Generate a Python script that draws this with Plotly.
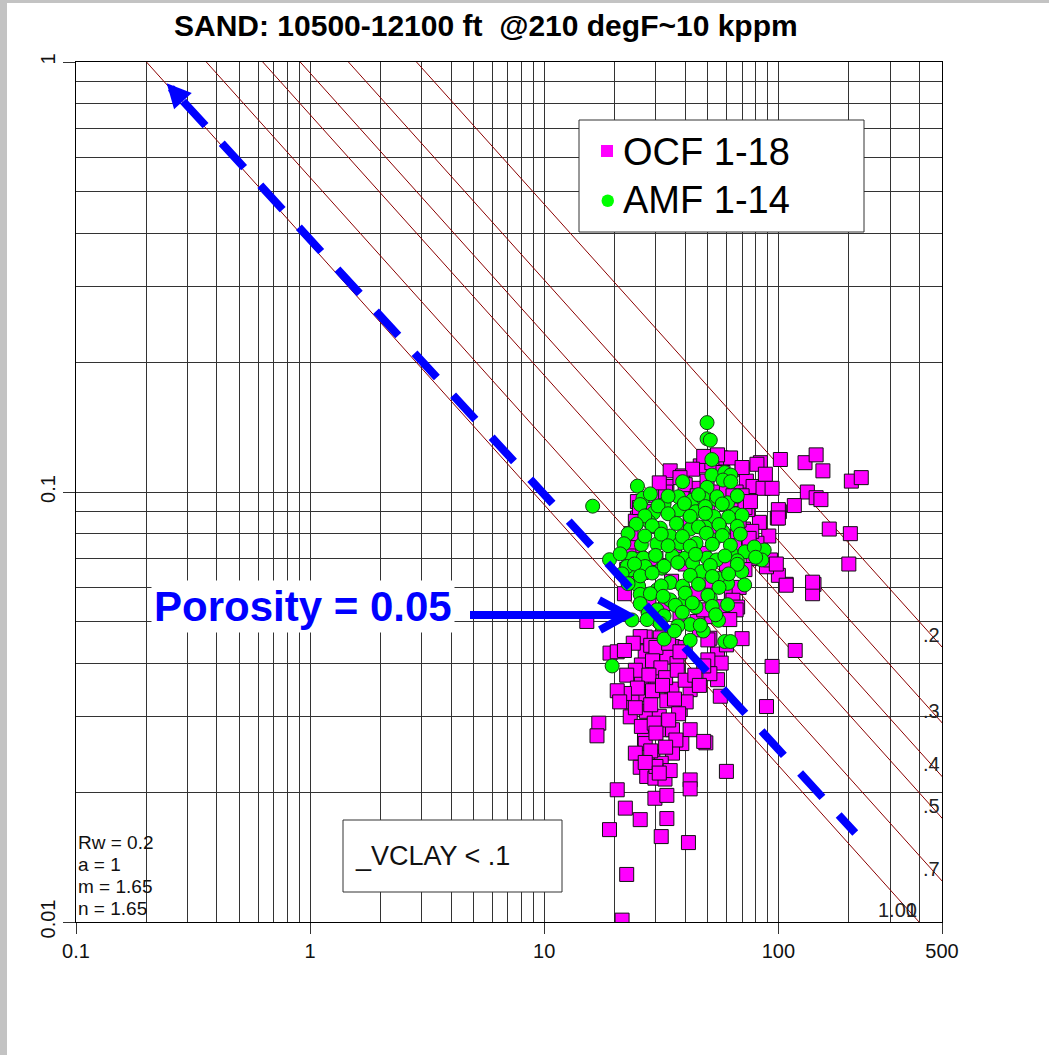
import math
import plotly.graph_objects as go

# ---------------- data ----------------
title_text = "SAND: 10500-12100 ft  @210 degF~10 kppm"
rw_value, a_value, m_value, n_value = 0.2, 1.0, 1.65, 1.65
param_lines = ["Rw = 0.2", "a = 1", "m = 1.65", "n = 1.65"]
sw_values = [1.0, 0.7, 0.5, 0.4, 0.3, 0.2]
sw_labels = ["1.00", ".7", ".5", ".4", ".3", ".2"]

x_major = [0.1, 1, 10, 100, 500]
x_major_text = ["0.1", "1", "10", "100", "500"]
x_minor = [0.2, 0.3, 0.4, 0.5, 0.6, 0.7, 0.8, 0.9,
           2, 3, 4, 5, 6, 7, 8, 9,
           20, 30, 40, 50, 60, 70, 80, 90,
           200, 300, 400]
y_major = [0.01, 0.1, 1]
y_major_text = ["0.01", "0.1", "1"]
y_minor = [0.02, 0.03, 0.04, 0.05, 0.06, 0.07, 0.08, 0.09,
           0.2, 0.3, 0.4, 0.5, 0.6, 0.7, 0.8, 0.9]

series_names = ["OCF 1-18", "AMF 1-14"]
filter_text = "_VCLAY < .1"
porosity_text = "Porosity = 0.05"
pointer_rt = [0.244, 213]
pointer_phi = [0.892, 0.0161]

ocf_rt = [83.8, 102, 130, 145, 155, 205, 226, 133, 145, 152,
          117, 101, 99, 165, 203, 200, 142, 140, 108, 100,
          89, 92.5, 91, 81, 83, 71, 63, 81, 70, 57,
          62.5, 73, 78, 86, 94, 74, 67, 77, 67, 100,
          100, 98, 108, 140, 70, 46.4, 52, 48, 55, 34.5,
          39, 25, 25, 29.7, 33.4, 41.3, 44.5, 49.6, 24, 23,
          22, 28, 33, 40, 45, 55, 60, 66, 70, 72,
          68, 75, 78, 72, 68, 64, 58, 45, 38, 33,
          28, 26, 30, 36, 42, 50, 55, 48, 40, 35,
          45, 52, 60, 65, 22.5, 23, 67, 70, 118, 94,
          89, 60, 49, 51, 55, 57, 55, 56.5, 50, 51,
          48, 66, 27, 35.3, 40, 50, 60, 46, 52, 56.5,
          48, 15.2, 19.1, 20.5, 25.7, 27, 31.3, 33.4, 36.9, 26,
          26, 30.3, 35.1, 42, 27, 23.7, 23.3, 27.3, 31, 33.4,
          38.1, 40.4, 17.1, 16.8, 32, 35.3, 42, 26.8, 27, 38.7,
          48, 24.5, 29.1, 35.3, 31.6, 25.7, 27.4, 29.7, 32.8, 42,
          42, 20.5, 29.7, 33.4, 22.2, 25.7, 33.4, 19, 31.6, 41.3,
          22.5, 21.5, 24, 28.5, 30, 34, 38, 29, 31.5, 24.5,
          22.5, 28, 33, 37, 40, 44, 46, 25, 29, 32,
          36, 22, 20.5, 21, 28.5, 37.5, 24.5, 26, 29.5, 34,
          30, 36.5, 28.5, 33, 30, 34.5, 27, 31, 22, 24.5,
          23.5, 25.5, 43, 58, 64, 38, 31, 62, 76, 88]
ocf_phi = [0.117, 0.119, 0.117, 0.122, 0.112, 0.106, 0.108, 0.100, 0.097, 0.096,
           0.093, 0.090, 0.087, 0.082, 0.080, 0.068, 0.061, 0.058, 0.061, 0.064,
           0.067, 0.0695, 0.079, 0.076, 0.085, 0.082, 0.058, 0.116, 0.113, 0.120,
           0.120, 0.106, 0.103, 0.102, 0.102, 0.091, 0.096, 0.081, 0.079, 0.091,
           0.087, 0.068, 0.0607, 0.0617, 0.114, 0.115, 0.117, 0.121, 0.122, 0.112,
           0.109, 0.095, 0.087, 0.098, 0.103, 0.101, 0.102, 0.106, 0.075, 0.062,
           0.058, 0.090, 0.100, 0.104, 0.098, 0.100, 0.100, 0.100, 0.098, 0.092,
           0.086, 0.078, 0.070, 0.066, 0.060, 0.056, 0.052, 0.050, 0.052, 0.055,
           0.056, 0.065, 0.070, 0.075, 0.085, 0.090, 0.080, 0.072, 0.068, 0.062,
           0.058, 0.062, 0.068, 0.075, 0.066, 0.071, 0.054, 0.0456, 0.0428, 0.0393,
           0.0317, 0.0224, 0.0261, 0.0457, 0.042, 0.040, 0.0366, 0.0335, 0.0407, 0.0378,
           0.0394, 0.0532, 0.046, 0.0437, 0.0435, 0.0453, 0.0441, 0.0478, 0.0513, 0.0541,
           0.0532, 0.050, 0.0422, 0.0425, 0.0461, 0.0425, 0.0458, 0.0413, 0.0399, 0.0396,
           0.036, 0.0366, 0.0348, 0.0347, 0.0338, 0.0325, 0.030, 0.0309, 0.0301, 0.0327,
           0.0312, 0.0325, 0.029, 0.0271, 0.028, 0.028, 0.028, 0.0267, 0.026, 0.026,
           0.0263, 0.0247, 0.0242, 0.0247, 0.0234, 0.0229, 0.0218, 0.0216, 0.0215, 0.0214,
           0.0204, 0.0203, 0.0194, 0.0197, 0.0184, 0.0173, 0.0174, 0.0164, 0.0158, 0.0153,
           0.0129, 0.0101, 0.0445, 0.044, 0.0435, 0.0445, 0.0425, 0.0405, 0.039, 0.0385,
           0.0375, 0.0375, 0.037, 0.0385, 0.0365, 0.0375, 0.0355, 0.035, 0.0345, 0.0355,
           0.033, 0.034, 0.0345, 0.0325, 0.032, 0.0305, 0.0315, 0.0285, 0.029, 0.0295,
           0.0275, 0.0265, 0.025, 0.0255, 0.023, 0.0225, 0.0235, 0.0222, 0.0428, 0.0855,
           0.0800, 0.0920, 0.113, 0.111, 0.098, 0.108, 0.105, 0.0505, 0.095, 0.110]

amf_rt = [49.6, 49.6, 51.2, 52, 52, 59, 62.6, 58, 62.6, 39,
          49.6, 25, 26.4, 16.1, 37.4, 32.5, 43, 47.8, 54.5, 60.7,
          65.8, 29.3, 37.6, 44.3, 53, 58, 28, 31.3, 34.5, 42,
          48.7, 53, 26, 30.3, 38, 44.5, 63, 72, 87, 85,
          19, 23.7, 26.5, 35.3, 40, 49.6, 54.5, 66.8, 69.8, 60.7,
          23.3, 27, 31.8, 43, 47, 55, 25.3, 25.7, 30.3, 34.5,
          39, 34.5, 40, 44.5, 51.2, 60.7, 30.3, 23.7, 42, 47.8,
          55.5, 59, 62.4, 22.6, 19.5, 28.4, 33.8, 45.6, 54.7, 66.8,
          25.7, 30.6, 39.7, 48.8, 57.6, 26.9, 33.8, 42, 48.8, 61.3,
          70, 24.7, 28.9, 36.7, 45.6, 55.8, 66.8, 22.8, 26.9, 31.6,
          38.9, 49.3, 57.6, 68.8, 21.9, 33.8, 42, 52.2, 62.4, 78.9,
          21.1, 29.9, 44.3, 59.1, 80, 24.3, 32.5, 37.2, 51.2, 66.8,
          21.5, 25.7, 28.9, 42, 52.2, 61.3, 22.8, 31.6, 45.6, 55.8,
          71.8, 28.4, 32.2, 40, 50, 25.7, 36.3, 42.9, 52.2, 27.8,
          32.5, 38.9, 54, 31.3, 37.2, 46.4, 32.5, 42, 36, 27.5]
amf_phi = [0.145, 0.133, 0.132, 0.119, 0.1095, 0.111, 0.1095, 0.1066, 0.1057, 0.1057,
           0.1025, 0.1032, 0.0967, 0.0927, 0.0975, 0.0937, 0.0958, 0.0967, 0.096, 0.0944,
           0.089, 0.0894, 0.0908, 0.090, 0.0877, 0.0809, 0.0853, 0.0824, 0.079, 0.082,
           0.083, 0.0773, 0.0754, 0.0757, 0.076, 0.076, 0.072, 0.0726, 0.0733, 0.0695,
           0.0696, 0.0702, 0.0702, 0.0709, 0.0702, 0.0702, 0.0695, 0.0692, 0.0653, 0.0613,
           0.0659, 0.0671, 0.0665, 0.0683, 0.0653, 0.063, 0.0604, 0.0578, 0.0592, 0.0616,
           0.0604, 0.0561, 0.0561, 0.054, 0.0567, 0.0547, 0.0532, 0.0504, 0.0492, 0.0475,
           0.0503, 0.0449, 0.0449, 0.0671, 0.0394, 0.099, 0.0978, 0.0986, 0.0975, 0.098,
           0.0935, 0.0928, 0.094, 0.0925, 0.0938, 0.088, 0.089, 0.0878, 0.0892, 0.0875,
           0.0883, 0.0842, 0.0835, 0.0845, 0.083, 0.084, 0.0832, 0.080, 0.079, 0.0798,
           0.0788, 0.0802, 0.0792, 0.0798, 0.0758, 0.075, 0.0748, 0.0756, 0.0752, 0.0745,
           0.0718, 0.0712, 0.0716, 0.071, 0.0705, 0.068, 0.0672, 0.0685, 0.0675, 0.0679,
           0.0645, 0.0638, 0.0648, 0.064, 0.0636, 0.0645, 0.0612, 0.0605, 0.061, 0.060,
           0.0608, 0.058, 0.0572, 0.0582, 0.0575, 0.055, 0.0545, 0.0552, 0.0542, 0.0522,
           0.0515, 0.0525, 0.0518, 0.0495, 0.0488, 0.049, 0.0455, 0.0452, 0.0475, 0.0505]

assert len(ocf_rt) == len(ocf_phi)
assert len(amf_rt) == len(amf_phi)

# ---------------- layout geometry ----------------
W, H = 1049, 1055
ML, MR, MT, MB = 76, 107, 62, 133
PW, PH = W - ML - MR, H - MT - MB
FONT = "Liberation Sans, Arial, sans-serif"
PINK, GREEN, BLUE, ISO = "#FF00FF", "#00FF00", "#0000FF", "#8B0000"


def pxx(x):  # page pixel -> paper x
    return (x - ML) / PW


def pxy(y):  # page pixel -> paper y
    return (H - MB - y) / PH


fig = go.Figure()

# Archie iso-saturation lines
for sw in sw_values:
    k = a_value * rw_value / sw ** n_value
    phis = [1.0, 0.01]
    fig.add_trace(go.Scatter(x=[k / p ** m_value for p in phis], y=phis, mode="lines",
                             line=dict(color=ISO, width=1), hoverinfo="skip",
                             showlegend=False))

# data
fig.add_trace(go.Scatter(x=ocf_rt, y=ocf_phi, mode="markers", name=series_names[0],
                         marker=dict(symbol="square", size=14, color=PINK,
                                     line=dict(color="#111", width=1)),
                         showlegend=False))
fig.add_trace(go.Scatter(x=amf_rt, y=amf_phi, mode="markers", name=series_names[1],
                         marker=dict(symbol="circle", size=14, color=GREEN,
                                     line=dict(color="#1a3a1a", width=1)),
                         showlegend=False))

# dashed pointer line
lx0, ly0 = math.log10(pointer_rt[0]), math.log10(pointer_phi[0])
lx1, ly1 = math.log10(pointer_rt[1]), math.log10(pointer_phi[1])
t = 0.024
bx, by = lx0 + t * (lx1 - lx0), ly0 + t * (ly1 - ly0)
fig.add_trace(go.Scatter(x=[10 ** bx, pointer_rt[1]], y=[10 ** by, pointer_phi[1]],
                         mode="lines", line=dict(color=BLUE, width=8, dash="33px,24px"),
                         hoverinfo="skip", showlegend=False))

annotations = []
annotations.append(dict(x=lx0, y=ly0, xref="x", yref="y", ax=bx, ay=by, axref="x", ayref="y",
                        text="", showarrow=True, arrowhead=2, arrowsize=0.6, arrowwidth=8,
                        arrowcolor=BLUE))

# Sw labels
for sw, lab in zip(sw_values, sw_labels):
    k = a_value * rw_value / sw ** n_value
    phi_r = (k / 500) ** (1 / m_value)
    if phi_r >= 0.01:
        lx, ly = 500, phi_r
    else:
        lx, ly = k / 0.01 ** m_value, 0.01
    labs = [lab] + (["1"] if sw == 1.0 else [])
    for s in labs:
        annotations.append(dict(x=math.log10(lx), y=math.log10(ly), xref="x", yref="y",
                                text=s, showarrow=False, xanchor="right", yanchor="bottom",
                                yshift=-1, font=dict(family=FONT, size=20, color="#222")))

# title
annotations.append(dict(x=pxx(486), y=pxy(25), xref="paper", yref="paper", text="<b>" + title_text + "</b>",
                        showarrow=False, xanchor="center", yanchor="middle",
                        font=dict(family=FONT, size=30, color="#000")))

# parameters text
for i, s in enumerate(param_lines):
    annotations.append(dict(x=pxx(76), y=pxy(842 + 22 * i), xref="paper", yref="paper", text=s,
                            showarrow=False, xanchor="left", yanchor="middle",
                            font=dict(family=FONT, size=19, color="#111")))

# filter box text
annotations.append(dict(x=pxx(353), y=pxy(856), xref="paper", yref="paper", text=filter_text,
                        showarrow=False, xanchor="left", yanchor="middle",
                        font=dict(family=FONT, size=27, color="#111")))

# porosity callout
annotations.append(dict(x=pxx(303), y=pxy(606), xref="paper", yref="paper",
                        text="<b>" + porosity_text + "</b>", showarrow=False,
                        xanchor="center", yanchor="middle", bgcolor="white", borderpad=2,
                        font=dict(family=FONT, size=42, color=BLUE)))

# legend text
for i, s in enumerate(series_names):
    annotations.append(dict(x=pxx(621), y=pxy(152 + 48 * i), xref="paper", yref="paper", text=s,
                            showarrow=False, xanchor="left", yanchor="middle",
                            font=dict(family=FONT, size=38, color="#000")))

shapes = []
# page frame strips
shapes.append(dict(type="rect", xref="paper", yref="paper", x0=pxx(0), x1=pxx(7),
                   y0=pxy(H), y1=pxy(0), fillcolor="#c3c3c3", line=dict(width=0), layer="below"))
shapes.append(dict(type="rect", xref="paper", yref="paper", x0=pxx(0), x1=pxx(W),
                   y0=pxy(3), y1=pxy(0), fillcolor="#c3c3c3", line=dict(width=0), layer="below"))
# legend box
shapes.append(dict(type="rect", xref="paper", yref="paper", x0=pxx(579), x1=pxx(864),
                   y0=pxy(232), y1=pxy(120), fillcolor="white", line=dict(color="#333", width=1)))
shapes.append(dict(type="rect", xref="paper", yref="paper", x0=pxx(601), x1=pxx(613),
                   y0=pxy(157), y1=pxy(145), fillcolor=PINK, line=dict(width=0)))
shapes.append(dict(type="circle", xref="paper", yref="paper", x0=pxx(601.5), x1=pxx(614),
                   y0=pxy(207), y1=pxy(194.5), fillcolor=GREEN, line=dict(width=0)))
# filter box
shapes.append(dict(type="rect", xref="paper", yref="paper", x0=pxx(343), x1=pxx(562),
                   y0=pxy(892), y1=pxy(820), fillcolor="white", line=dict(color="#333", width=1)))
# porosity arrow
path = "M {:.5f},{:.5f} L {:.5f},{:.5f} M {:.5f},{:.5f} L {:.5f},{:.5f} L {:.5f},{:.5f}".format(
    pxx(470), pxy(615), pxx(626), pxy(615),
    pxx(599), pxy(600), pxx(627), pxy(615), pxx(600), pxy(630))
shapes.append(dict(type="path", xref="paper", yref="paper", path=path,
                   line=dict(color=BLUE, width=8)))

axis_common = dict(type="log", ticks="outside", tickcolor="#333", showgrid=True,
                   gridcolor="#333", gridwidth=1, zeroline=False, showline=True, mirror=True,
                   linecolor="#000", linewidth=1,
                   tickfont=dict(family=FONT, size=20, color="#111"))

fig.update_layout(
    width=W, height=H, autosize=False,
    margin=dict(l=ML, r=MR, t=MT, b=MB, pad=0),
    paper_bgcolor="white", plot_bgcolor="white",
    showlegend=False,
    xaxis=dict(axis_common, range=[math.log10(x_major[0]), math.log10(x_major[-1])],
               tickmode="array", tickvals=x_major, ticktext=x_major_text, ticklen=11,
               minor=dict(tickmode="array", tickvals=x_minor, showgrid=True, gridcolor="#333",
                          gridwidth=1, ticks="")),
    yaxis=dict(axis_common, range=[math.log10(y_major[0]), math.log10(y_major[-1])],
               tickmode="array", tickvals=y_major, ticktext=y_major_text, ticklen=12,
               tickangle=-90,
               minor=dict(tickmode="array", tickvals=y_minor, showgrid=True, gridcolor="#333",
                          gridwidth=1, ticks="")),
    annotations=annotations,
    shapes=shapes,
)

fig.write_html("out.html", config={"displayModeBar": False})
